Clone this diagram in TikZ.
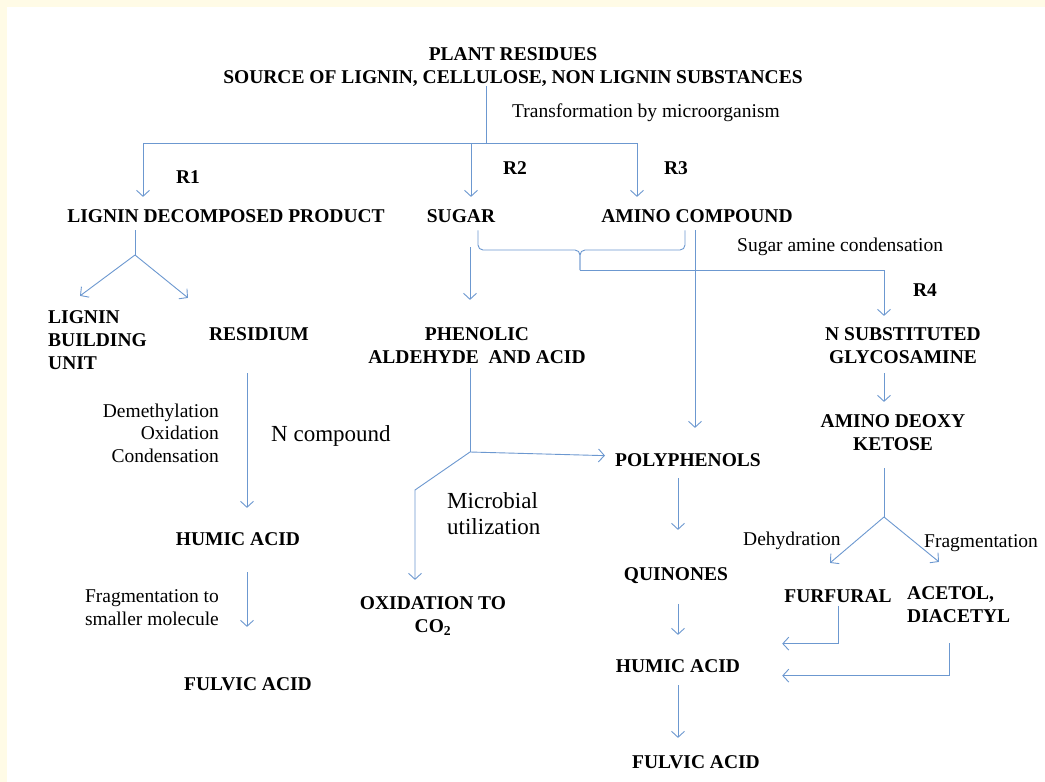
\documentclass[tikz,border=0pt]{standalone}
\usepackage{fontspec}
\setmainfont{Liberation Serif}
\usetikzlibrary{arrows.meta}

\definecolor{linkblue}{RGB}{108,152,208}
\definecolor{cream}{RGB}{255,251,230}

\tikzstyle{compound}=[font=\fontsize{19.5}{23}\selectfont\bfseries,inner sep=0pt,anchor=base,align=center]
\tikzstyle{process}=[font=\fontsize{19.5}{22.5}\selectfont,inner sep=0pt,anchor=base]
\tikzstyle{bigprocess}=[font=\fontsize{23}{25.5}\selectfont,inner sep=0pt,anchor=base west,align=left]
\tikzstyle{edge}=[draw=linkblue,line width=0.9pt]
\tikzstyle{arrowdecorate}=[edge,-{Straight Barb[length=6pt,width=13pt]}]

\begin{document}
\begin{tikzpicture}[x=1pt,y=-1pt]
      \useasboundingbox (0,0) rectangle (1045,782);
      \fill[cream] (0,0) rectangle (1045,782);
      \fill[white] (7,7) rectangle (1045,782);
      %nodes (multi-line nodes sit on their last line)
      \node[compound] (plant) at (513,83) {PLANT RESIDUES\\SOURCE OF LIGNIN, CELLULOSE, NON LIGNIN SUBSTANCES};
      \foreach \nodename/\x/\y/\value in {
        r1/188/183/R1, r2/515/174/R2, r3/676/174/R3, r4/925/296/R4,
        lignin/226/222/LIGNIN DECOMPOSED PRODUCT, sugar/461/222/SUGAR,
        amino/697/222/AMINO COMPOUND, residium/259/340/RESIDIUM,
        poly/688/466/POLYPHENOLS, humicL/238/545/HUMIC ACID,
        quin/676/580/QUINONES, furfural/838/602/FURFURAL,
        humicR/678/672/HUMIC ACID, fulvicL/248/690/FULVIC ACID,
        fulvicR/696/768/FULVIC ACID}
      {
        \node[compound] (\nodename) at (\x,\y) {\value};
      };
      \node[compound,anchor=base west,align=left] (building) at (48,369) {LIGNIN\\BUILDING\\UNIT};
      \node[compound] (phenolic) at (477,363) {PHENOLIC\\ALDEHYDE\ \ AND ACID};
      \node[compound] (nsub) at (903,363) {N SUBSTITUTED\\GLYCOSAMINE};
      \node[compound] (amdeoxy) at (893,450) {AMINO DEOXY\\KETOSE};
      \node[compound,anchor=base west,align=left] (acetol) at (907,622) {ACETOL,\\DIACETYL};
      \node[compound] (oxid) at (433,632) {OXIDATION TO\\CO\textsubscript{2}};

      \node[process,anchor=base west] (transform) at (512,117) {Transformation by microorganism};
      \node[process,anchor=base west] (condense) at (737,251) {Sugar amine condensation};
      \node[process,anchor=base east,align=right] (demeth) at (219,462) {Demethylation\\Oxidation\\Condensation};
      \node[process,anchor=base east,align=right] (fragsmall) at (219,625) {Fragmentation to\\smaller molecule};
      \node[process,anchor=base west] (dehyd) at (743,545) {Dehydration};
      \node[process,anchor=base west] (frag) at (924,547) {Fragmentation};
      \node[bigprocess] (ncomp) at (271,441) {N compound};
      \node[bigprocess] (microbial) at (447,534) {Microbial\\utilization};

      %junctions
      \coordinate (split) at (486,143);
      \coordinate (fork1) at (135,255);
      \coordinate (brace) at (580,250);
      \coordinate (tip) at (580,270);
      \coordinate (fork2) at (470,452);
      \coordinate (kink) at (415,490);
      \coordinate (fork3) at (884,517);

      %edges
      \draw[edge] (plant.south -| split) -- (split);
      \draw[arrowdecorate] (split) -| ([shift={(-83,-12)}]lignin.north);
      \draw[arrowdecorate] (split) -| ([shift={(10,-12)}]sugar.north);
      \draw[arrowdecorate] (split) -| ([shift={(-60,-12)}]amino.north);

      \draw[edge] ([shift={(-91,8)}]lignin.south) -- (fork1);
      \draw[arrowdecorate] (fork1) -- ([shift={(32,-14)}]building.north west);
      \draw[arrowdecorate] (fork1) -- ([shift={(-71,-29)}]residium.north);
      \draw[arrowdecorate] ([shift={(-12,33)}]residium.south) -- ([shift={(9,-24)}]humicL.north);
      \draw[arrowdecorate] ([shift={(9,27)}]humicL.south) -- ([shift={(-1,-50)}]fulvicL.north);

      \draw[arrowdecorate] ([shift={(9,25)}]sugar.south) -- ([shift={(-7,-27)}]phenolic.north);
      \draw[edge,rounded corners=5pt] ([shift={(17,8)}]sugar.south) |- (brace) -- (tip);
      \draw[edge,rounded corners=5pt] ([shift={(-12,8)}]amino.south) |- (brace) -- (tip);
      \draw[arrowdecorate] (tip) -| ([shift={(-19,-11)}]nsub.north);
      \draw[arrowdecorate] ([shift={(-2,8)}]amino.south) -- ([shift={(7,-25)}]poly.north);

      \draw[edge] ([shift={(-7,5)}]phenolic.south) -- (fork2);
      \draw[arrowdecorate] (fork2) -- ([shift={(-10,-4)}]poly.west);
      \draw[arrowdecorate] (fork2) -- (kink) -- ([shift={(-18,-16)}]oxid.north);

      \draw[arrowdecorate] ([shift={(-19,10)}]nsub.south) -- ([shift={(-9,-12)}]amdeoxy.north);
      \draw[edge] ([shift={(-9,18)}]amdeoxy.south) -- (fork3);
      \draw[arrowdecorate] (fork3) -- ([shift={(-8,-26)}]furfural.north);
      \draw[arrowdecorate] (fork3) -- ([shift={(32,-24)}]acetol.north west);
      \draw[arrowdecorate] ([shift={(0,4)}]furfural.south) |- ([shift={(42,-22)}]humicR.east);
      \draw[arrowdecorate] ([shift={(42,21)}]acetol.south west) |- ([shift={(42,10)}]humicR.east);

      \draw[arrowdecorate] ([shift={(-10,12)}]poly.south) -- ([shift={(2,-37)}]quin.north);
      \draw[arrowdecorate] ([shift={(2,37)}]quin.north) -- ([shift={(0,-24)}]humicR.north);
      \draw[arrowdecorate] ([shift={(0,13)}]humicR.south) -- ([shift={(-18,-17)}]fulvicR.north);
    \end{tikzpicture}
\end{document}
